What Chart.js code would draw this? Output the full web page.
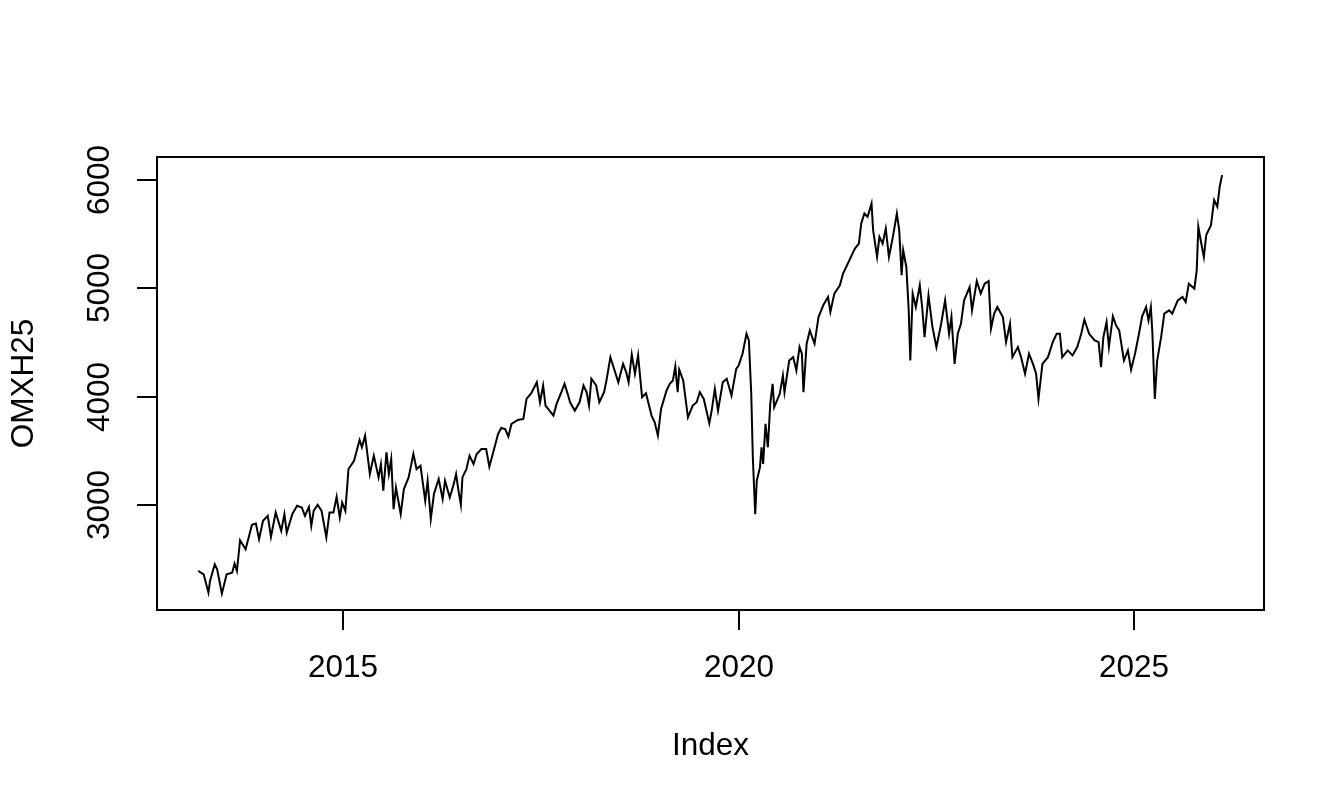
<!DOCTYPE html>
<html>
<head>
<meta charset="utf-8">
<title>OMXH25</title>
<script src="https://cdn.jsdelivr.net/npm/chart.js@4/dist/chart.umd.min.js"></script>
<style>
  html, body { margin: 0; padding: 0; background: #fff; }
  #wrap { width: 1344px; height: 806px; position: relative; }
</style>
</head>
<body>
<div id="wrap"><canvas id="plot"></canvas></div>
<script>
// values (decimal year, index level)
const dates = [
  2013.17, 2013.24, 2013.30, 2013.32, 2013.38, 2013.41, 2013.47, 2013.53, 2013.60, 2013.63,
  2013.66, 2013.70, 2013.77, 2013.85, 2013.90, 2013.94, 2013.99, 2014.05, 2014.09, 2014.15,
  2014.22, 2014.26, 2014.29, 2014.36, 2014.42, 2014.48, 2014.52, 2014.57, 2014.60, 2014.63,
  2014.68, 2014.73, 2014.79, 2014.83, 2014.88, 2014.92, 2014.96, 2014.99, 2015.03, 2015.07,
  2015.14, 2015.21, 2015.24, 2015.28, 2015.34, 2015.39, 2015.45, 2015.48, 2015.51, 2015.55,
  2015.58, 2015.61, 2015.64, 2015.67, 2015.73, 2015.77, 2015.83, 2015.89, 2015.93, 2015.98,
  2016.04, 2016.07, 2016.11, 2016.15, 2016.21, 2016.26, 2016.29, 2016.35, 2016.40, 2016.43,
  2016.46, 2016.49, 2016.51, 2016.56, 2016.60, 2016.65, 2016.69, 2016.75, 2016.81, 2016.85,
  2016.91, 2016.96, 2017.00, 2017.05, 2017.09, 2017.13, 2017.21, 2017.28, 2017.32, 2017.38,
  2017.45, 2017.49, 2017.53, 2017.56, 2017.61, 2017.66, 2017.70, 2017.76, 2017.80, 2017.84,
  2017.87, 2017.93, 2017.99, 2018.04, 2018.08, 2018.11, 2018.14, 2018.20, 2018.24, 2018.30,
  2018.33, 2018.38, 2018.42, 2018.48, 2018.54, 2018.58, 2018.61, 2018.65, 2018.69, 2018.73,
  2018.78, 2018.83, 2018.90, 2018.94, 2018.98, 2019.02, 2019.09, 2019.13, 2019.17, 2019.20,
  2019.23, 2019.25, 2019.30, 2019.36, 2019.42, 2019.47, 2019.51, 2019.56, 2019.63, 2019.66,
  2019.70, 2019.74, 2019.80, 2019.85, 2019.91, 2019.97, 2020.00, 2020.05, 2020.10, 2020.13,
  2020.16, 2020.18, 2020.21, 2020.23, 2020.27, 2020.29, 2020.31, 2020.34, 2020.37, 2020.40,
  2020.43, 2020.45, 2020.52, 2020.56, 2020.58, 2020.64, 2020.69, 2020.73, 2020.77, 2020.80,
  2020.82, 2020.86, 2020.90, 2020.96, 2021.01, 2021.07, 2021.13, 2021.16, 2021.21, 2021.28,
  2021.32, 2021.36, 2021.42, 2021.47, 2021.52, 2021.55, 2021.59, 2021.63, 2021.68, 2021.70,
  2021.75, 2021.78, 2021.82, 2021.86, 2021.90, 2021.95, 2022.00, 2022.03, 2022.06, 2022.08,
  2022.12, 2022.15, 2022.17, 2022.20, 2022.24, 2022.29, 2022.32, 2022.35, 2022.40, 2022.45,
  2022.50, 2022.56, 2022.61, 2022.66, 2022.69, 2022.73, 2022.77, 2022.81, 2022.85, 2022.92,
  2022.95, 2023.01, 2023.06, 2023.11, 2023.16, 2023.19, 2023.23, 2023.27, 2023.34, 2023.38,
  2023.43, 2023.46, 2023.53, 2023.57, 2023.62, 2023.67, 2023.72, 2023.76, 2023.79, 2023.84,
  2023.91, 2023.97, 2024.02, 2024.06, 2024.09, 2024.16, 2024.22, 2024.28, 2024.33, 2024.37,
  2024.43, 2024.50, 2024.55, 2024.58, 2024.61, 2024.65, 2024.68, 2024.73, 2024.77, 2024.81,
  2024.87, 2024.92, 2024.96, 2025.01, 2025.06, 2025.10, 2025.15, 2025.18, 2025.21, 2025.23,
  2025.26, 2025.29, 2025.34, 2025.38, 2025.44, 2025.48, 2025.55, 2025.61, 2025.65, 2025.69,
  2025.76, 2025.79, 2025.81, 2025.84, 2025.88, 2025.91, 2025.97, 2026.01, 2026.05, 2026.08,
  2026.11
];

const omxh25 = [
  2389, 2358, 2188, 2296, 2451, 2405, 2179, 2358, 2373, 2457,
  2389, 2673, 2590, 2815, 2827, 2682, 2852, 2898, 2704, 2929,
  2759, 2914, 2744, 2914, 2991, 2975, 2898, 2981, 2806, 2944,
  3000, 2944, 2698, 2929, 2929, 3074, 2883, 3021, 2944, 3330,
  3407, 3599, 3531, 3639, 3284, 3454, 3253, 3377, 3130, 3484,
  3284, 3423, 2960, 3160, 2914, 3145, 3253, 3469, 3330, 3361,
  3037, 3222, 2868, 3099, 3238, 3053, 3222, 3068, 3191, 3284,
  3130, 3000, 3253, 3330, 3454, 3377, 3469, 3515, 3515, 3352,
  3515, 3654, 3710, 3700, 3630, 3747, 3784, 3793, 3978, 4031,
  4132, 3947, 4102, 3917, 3870, 3824, 3932, 4040, 4117, 4025,
  3947, 3870, 3947, 4102, 4040, 3917, 4164, 4102, 3947, 4040,
  4148, 4364, 4271, 4132, 4302, 4225, 4132, 4389, 4210, 4380,
  3994, 4031, 3824, 3762, 3639, 3886, 4056, 4117, 4148, 4278,
  4040, 4248, 4148, 3808, 3917, 3947, 4040, 3978, 3753, 3870,
  4071, 3870, 4132, 4164, 4009, 4256, 4287, 4395, 4580, 4518,
  4025, 3438, 2914, 3222, 3345, 3531, 3377, 3747, 3531, 3932,
  4117, 3901, 4025, 4194, 4040, 4333, 4364, 4241, 4457, 4395,
  4040, 4488, 4611, 4488, 4734, 4843, 4920, 4781, 4951, 5028,
  5136, 5197, 5290, 5367, 5413, 5599, 5691, 5660, 5784, 5537,
  5290, 5475, 5413, 5552, 5290, 5475, 5691, 5537, 5120, 5352,
  5197, 4796, 4333, 4951, 4827, 5028, 4827, 4549, 4935, 4642,
  4457, 4673, 4889, 4580, 4734, 4302, 4580, 4673, 4889, 5012,
  4796, 5067, 4951, 5043, 5067, 4627, 4766, 4827, 4734, 4503,
  4673, 4364, 4457, 4364, 4210, 4395, 4302, 4210, 3978, 4302,
  4364, 4503, 4580, 4580, 4364, 4426, 4380, 4457, 4580, 4710,
  4580, 4518, 4503, 4271, 4549, 4688, 4457, 4741, 4657, 4611,
  4333, 4426, 4248, 4395, 4580, 4741, 4827, 4704, 4827, 4580,
  3978, 4333, 4549, 4766, 4796, 4766, 4889, 4920, 4873, 5043,
  4997, 5167, 5568, 5444, 5290, 5491, 5583, 5815, 5753, 5938,
  6046
];

const xTicks = [2015, 2020, 2025];
const yTicks = [3000, 4000, 5000, 6000];
const xTitle = 'Index';
const yTitle = 'OMXH25';

// plot range as in the reference (R's 4% extension)
const xRange = [2012.65, 2026.64];
const yRange = [2028, 6213];

const FONT = '31.5px "Liberation Sans", Arial, Helvetica, sans-serif';

/* ==========================
   R-style box, axes and labels
   ========================== */
const baseAxes = {
  id: 'baseAxes',
  afterDraw(chart) {
    const ctx = chart.ctx;
    const a = chart.chartArea;
    const xs = chart.scales.x;
    const ys = chart.scales.y;

    ctx.save();
    ctx.strokeStyle = '#000';
    ctx.fillStyle = '#000';
    ctx.lineWidth = 2;
    ctx.strokeRect(a.left, a.top, a.right - a.left, a.bottom - a.top);

    ctx.font = FONT;

    // x axis ticks + labels
    ctx.textAlign = 'center';
    ctx.textBaseline = 'middle';
    xTicks.forEach(v => {
      const px = Math.round(xs.getPixelForValue(v));
      ctx.beginPath();
      ctx.moveTo(px, a.bottom);
      ctx.lineTo(px, a.bottom + 20);
      ctx.stroke();
      ctx.fillText(String(v), px, 668);
    });

    // y axis ticks + rotated labels
    yTicks.forEach(v => {
      const py = Math.round(ys.getPixelForValue(v));
      ctx.beginPath();
      ctx.moveTo(a.left - 20, py);
      ctx.lineTo(a.left, py);
      ctx.stroke();
      ctx.save();
      ctx.translate(100, py);
      ctx.rotate(-Math.PI / 2);
      ctx.fillText(String(v), 0, 0);
      ctx.restore();
    });

    // axis titles
    ctx.textBaseline = 'alphabetic';
    ctx.fillText(xTitle, (a.left + a.right) / 2, 755);
    ctx.save();
    ctx.translate(33, (a.top + a.bottom) / 2);
    ctx.rotate(-Math.PI / 2);
    ctx.fillText(yTitle, 0, 0);
    ctx.restore();

    ctx.restore();
  }
};

/* ==========================
   Chart
   ========================== */
function init() {
  const points = dates.map((d, i) => ({ x: d, y: omxh25[i] }));

  new Chart(document.getElementById('plot'), {
    type: 'line',
    data: {
      datasets: [{
        data: points,
        borderColor: '#000',
        borderWidth: 2,
        pointRadius: 0,
        tension: 0,
        fill: false
      }]
    },
    options: {
      responsive: true,
      maintainAspectRatio: false,
      animation: false,
      devicePixelRatio: 1,
      layout: { padding: { left: 0, top: 157, right: 80, bottom: 0 } },
      plugins: { legend: { display: false }, tooltip: { enabled: false } },
      scales: {
        x: {
          type: 'linear',
          min: xRange[0],
          max: xRange[1],
          grid: { display: false },
          border: { display: false },
          ticks: { display: false },
          afterFit: s => { s.height = 196; }
        },
        y: {
          min: yRange[0],
          max: yRange[1],
          grid: { display: false },
          border: { display: false },
          ticks: { display: false },
          afterFit: s => { s.width = 157; }
        }
      }
    },
    plugins: [baseAxes]
  });
}

init();
</script>
</body>
</html>
